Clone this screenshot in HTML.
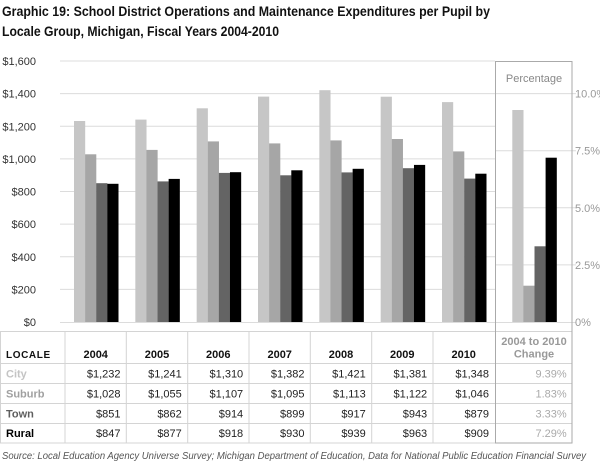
<!DOCTYPE html>
<html><head><meta charset="utf-8"><style>
html,body{margin:0;padding:0;background:#fff;}
svg{display:block;font-family:"Liberation Sans",Arial,sans-serif;}
</style></head><body>
<svg width="600" height="467" viewBox="0 0 600 467" xmlns="http://www.w3.org/2000/svg">
<rect width="600" height="467" fill="#fff"/>
<!-- Title -->
<text x="2" y="16" font-size="14" font-weight="bold" fill="#111" textLength="488" lengthAdjust="spacingAndGlyphs">Graphic 19: School District Operations and Maintenance Expenditures per Pupil by</text>
<text x="2" y="36" font-size="14" font-weight="bold" fill="#111" textLength="277" lengthAdjust="spacingAndGlyphs">Locale Group, Michigan, Fiscal Years 2004-2010</text>

<!-- main gridlines -->
<g stroke="#dcdcdc" stroke-width="1">
<line x1="60" y1="61" x2="495" y2="61"/>
<line x1="60" y1="93.6" x2="495" y2="93.6"/>
<line x1="60" y1="126.3" x2="495" y2="126.3"/>
<line x1="60" y1="158.9" x2="495" y2="158.9"/>
<line x1="60" y1="191.5" x2="495" y2="191.5"/>
<line x1="60" y1="224.1" x2="495" y2="224.1"/>
<line x1="60" y1="256.8" x2="495" y2="256.8"/>
<line x1="60" y1="289.4" x2="495" y2="289.4"/>
<!-- panel gridlines -->
<line x1="495" y1="93.6" x2="576" y2="93.6"/>
<line x1="495" y1="150.7" x2="576" y2="150.7"/>
<line x1="495" y1="207.8" x2="576" y2="207.8"/>
<line x1="495" y1="264.9" x2="576" y2="264.9"/>
<line x1="60" y1="322.5" x2="576" y2="322.5"/>
</g>

<!-- y-axis labels -->
<g font-size="11" fill="#333" text-anchor="end">
<text x="36" y="65">$1,600</text>
<text x="36" y="97.6">$1,400</text>
<text x="36" y="130.3">$1,200</text>
<text x="36" y="162.9">$1,000</text>
<text x="36" y="195.5">$800</text>
<text x="36" y="228.1">$600</text>
<text x="36" y="260.8">$400</text>
<text x="36" y="293.4">$200</text>
<text x="36" y="326">$0</text>
</g>
<g font-size="11" fill="#999">
<text x="575" y="97.6">10.0%</text>
<text x="575" y="154.7">7.5%</text>
<text x="575" y="211.8">5.0%</text>
<text x="575" y="268.9">2.5%</text>
<text x="575" y="326">0%</text>
</g>

<!-- bars: city -->
<g fill="#c6c6c6">
<rect x="74" y="121" width="11.2" height="201"/>
<rect x="135.33" y="119.6" width="11.2" height="202.4"/>
<rect x="196.67" y="108.3" width="11.2" height="213.7"/>
<rect x="258" y="96.6" width="11.2" height="225.4"/>
<rect x="319.33" y="90.2" width="11.2" height="231.8"/>
<rect x="380.67" y="96.7" width="11.2" height="225.3"/>
<rect x="442" y="102.1" width="11.2" height="219.9"/>
<rect x="512.3" y="110" width="11.2" height="212"/>
</g>
<g fill="#a6a6a6">
<rect x="85.1" y="154.3" width="11.2" height="167.7"/>
<rect x="146.43" y="149.9" width="11.2" height="172.1"/>
<rect x="207.77" y="141.4" width="11.2" height="180.6"/>
<rect x="269.1" y="143.4" width="11.2" height="178.6"/>
<rect x="330.43" y="140.4" width="11.2" height="181.6"/>
<rect x="391.77" y="139" width="11.2" height="183"/>
<rect x="453.1" y="151.4" width="11.2" height="170.6"/>
<rect x="523.4" y="285.7" width="11.2" height="36.3"/>
</g>
<g fill="#646464">
<rect x="96.2" y="183.2" width="11.2" height="138.8"/>
<rect x="157.53" y="181.4" width="11.2" height="140.6"/>
<rect x="218.87" y="172.9" width="11.2" height="149.1"/>
<rect x="280.2" y="175.3" width="11.2" height="146.7"/>
<rect x="341.53" y="172.4" width="11.2" height="149.6"/>
<rect x="402.87" y="168.2" width="11.2" height="153.8"/>
<rect x="464.2" y="178.6" width="11.2" height="143.4"/>
<rect x="534.5" y="246.3" width="11.2" height="75.7"/>
</g>
<g fill="#000">
<rect x="107.3" y="183.8" width="11.2" height="138.2"/>
<rect x="168.63" y="178.9" width="11.2" height="143.1"/>
<rect x="229.97" y="172.2" width="11.2" height="149.8"/>
<rect x="291.3" y="170.3" width="11.2" height="151.7"/>
<rect x="352.63" y="168.8" width="11.2" height="153.2"/>
<rect x="413.97" y="164.9" width="11.2" height="157.1"/>
<rect x="475.3" y="173.7" width="11.2" height="148.3"/>
<rect x="545.6" y="157.7" width="11.2" height="164.3"/>
</g>

<!-- Percentage title -->
<text x="534" y="82" font-size="11" fill="#888" text-anchor="middle">Percentage</text>

<!-- table lines -->
<g stroke="#d4d4d4" stroke-width="1">
<line x1="0" y1="331.5" x2="572" y2="331.5"/>
<line x1="0" y1="363.5" x2="572" y2="363.5"/>
<line x1="0" y1="383.5" x2="572" y2="383.5"/>
<line x1="0" y1="403.5" x2="572" y2="403.5"/>
<line x1="0" y1="423.5" x2="572" y2="423.5"/>
<line x1="0" y1="443" x2="572" y2="443"/>
<line x1="0.5" y1="331.5" x2="0.5" y2="443"/>
<line x1="65" y1="331.5" x2="65" y2="443"/>
<line x1="126.3" y1="331.5" x2="126.3" y2="443"/>
<line x1="187.7" y1="331.5" x2="187.7" y2="443"/>
<line x1="249" y1="331.5" x2="249" y2="443"/>
<line x1="310.3" y1="331.5" x2="310.3" y2="443"/>
<line x1="371.7" y1="331.5" x2="371.7" y2="443"/>
<line x1="433" y1="331.5" x2="433" y2="443"/>
</g>
<!-- percentage panel box -->
<rect x="495.5" y="61.5" width="76.5" height="381.5" fill="none" stroke="#aaa" stroke-width="1"/>

<!-- table header -->
<text x="6" y="358" font-size="10" font-weight="bold" fill="#111" letter-spacing="0.6">LOCALE</text>
<g font-size="11" font-weight="bold" fill="#111" text-anchor="middle">
<text x="95.7" y="358">2004</text>
<text x="157" y="358">2005</text>
<text x="218.3" y="358">2006</text>
<text x="279.7" y="358">2007</text>
<text x="341" y="358">2008</text>
<text x="402.3" y="358">2009</text>
<text x="463.7" y="358">2010</text>
</g>
<g font-size="11" font-weight="bold" fill="#999" text-anchor="middle">
<text x="534" y="345">2004 to 2010</text>
<text x="534" y="357.5">Change</text>
</g>

<!-- row labels -->
<g font-size="11" font-weight="bold">
<text x="6" y="377.5" fill="#c4c4c4">City</text>
<text x="6" y="397.5" fill="#a0a0a0">Suburb</text>
<text x="6" y="417.5" fill="#5e5e5e">Town</text>
<text x="6" y="437" fill="#000">Rural</text>
</g>

<!-- values -->
<g font-size="11" fill="#222" text-anchor="end">
<text x="120.5" y="377.5">$1,232</text><text x="181.8" y="377.5">$1,241</text><text x="243.2" y="377.5">$1,310</text><text x="304.5" y="377.5">$1,382</text><text x="365.8" y="377.5">$1,421</text><text x="427.2" y="377.5">$1,381</text><text x="489" y="377.5">$1,348</text>
<text x="120.5" y="397.5">$1,028</text><text x="181.8" y="397.5">$1,055</text><text x="243.2" y="397.5">$1,107</text><text x="304.5" y="397.5">$1,095</text><text x="365.8" y="397.5">$1,113</text><text x="427.2" y="397.5">$1,122</text><text x="489" y="397.5">$1,046</text>
<text x="120.5" y="417.5">$851</text><text x="181.8" y="417.5">$862</text><text x="243.2" y="417.5">$914</text><text x="304.5" y="417.5">$899</text><text x="365.8" y="417.5">$917</text><text x="427.2" y="417.5">$943</text><text x="489" y="417.5">$879</text>
<text x="120.5" y="437">$847</text><text x="181.8" y="437">$877</text><text x="243.2" y="437">$918</text><text x="304.5" y="437">$930</text><text x="365.8" y="437">$939</text><text x="427.2" y="437">$963</text><text x="489" y="437">$909</text>
</g>
<g font-size="11" fill="#aaa" text-anchor="end">
<text x="566.7" y="377.5">9.39%</text>
<text x="566.7" y="397.5">1.83%</text>
<text x="566.7" y="417.5">3.33%</text>
<text x="566.7" y="437">7.29%</text>
</g>

<!-- source -->
<text x="2" y="459" font-size="10" font-style="italic" fill="#555" textLength="584" lengthAdjust="spacingAndGlyphs">Source: Local Education Agency Universe Survey; Michigan Department of Education, Data for National Public Education Financial Survey</text>
</svg>
</body></html>
